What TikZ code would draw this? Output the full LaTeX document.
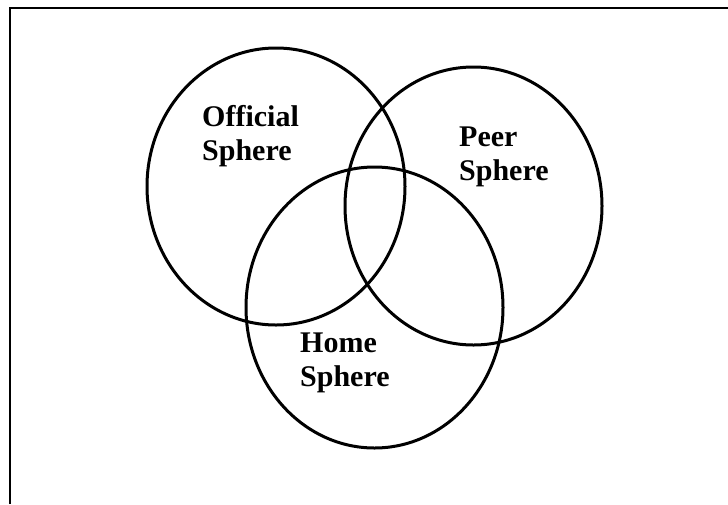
\documentclass[tikz,border=0pt]{standalone}
\usepackage{fontspec}
\setmainfont{Liberation Serif}
\tikzset{
  sphere/.style={line width=3pt},
  spherelabel/.style={font=\bfseries\fontsize{30}{34}\selectfont, align=left, anchor=base west, inner sep=0pt}
}
\begin{document}
\begin{tikzpicture}[x=1pt,y=-1pt]
    \useasboundingbox (0,0) rectangle (728,504);
    % frame, only top and left edges show
    \draw[line width=2pt] (10,504) -- (10,8) -- (728,8);

    % the three spheres
    \draw[sphere] (276,186.5) ellipse (129 and 138.5);
    \draw[sphere] (473.5,206) ellipse (128.5 and 139);
    \draw[sphere] (374.5,307.5) ellipse (128.5 and 140.5);

    % labels, anchored at the baseline of the second line
    \node[spherelabel] (official) at (202,160) {Official\\Sphere};
    \node[spherelabel] (peer) at (459,180) {Peer\\Sphere};
    \node[spherelabel] (home) at (300,386) {Home\\Sphere};
\end{tikzpicture}
\end{document}
